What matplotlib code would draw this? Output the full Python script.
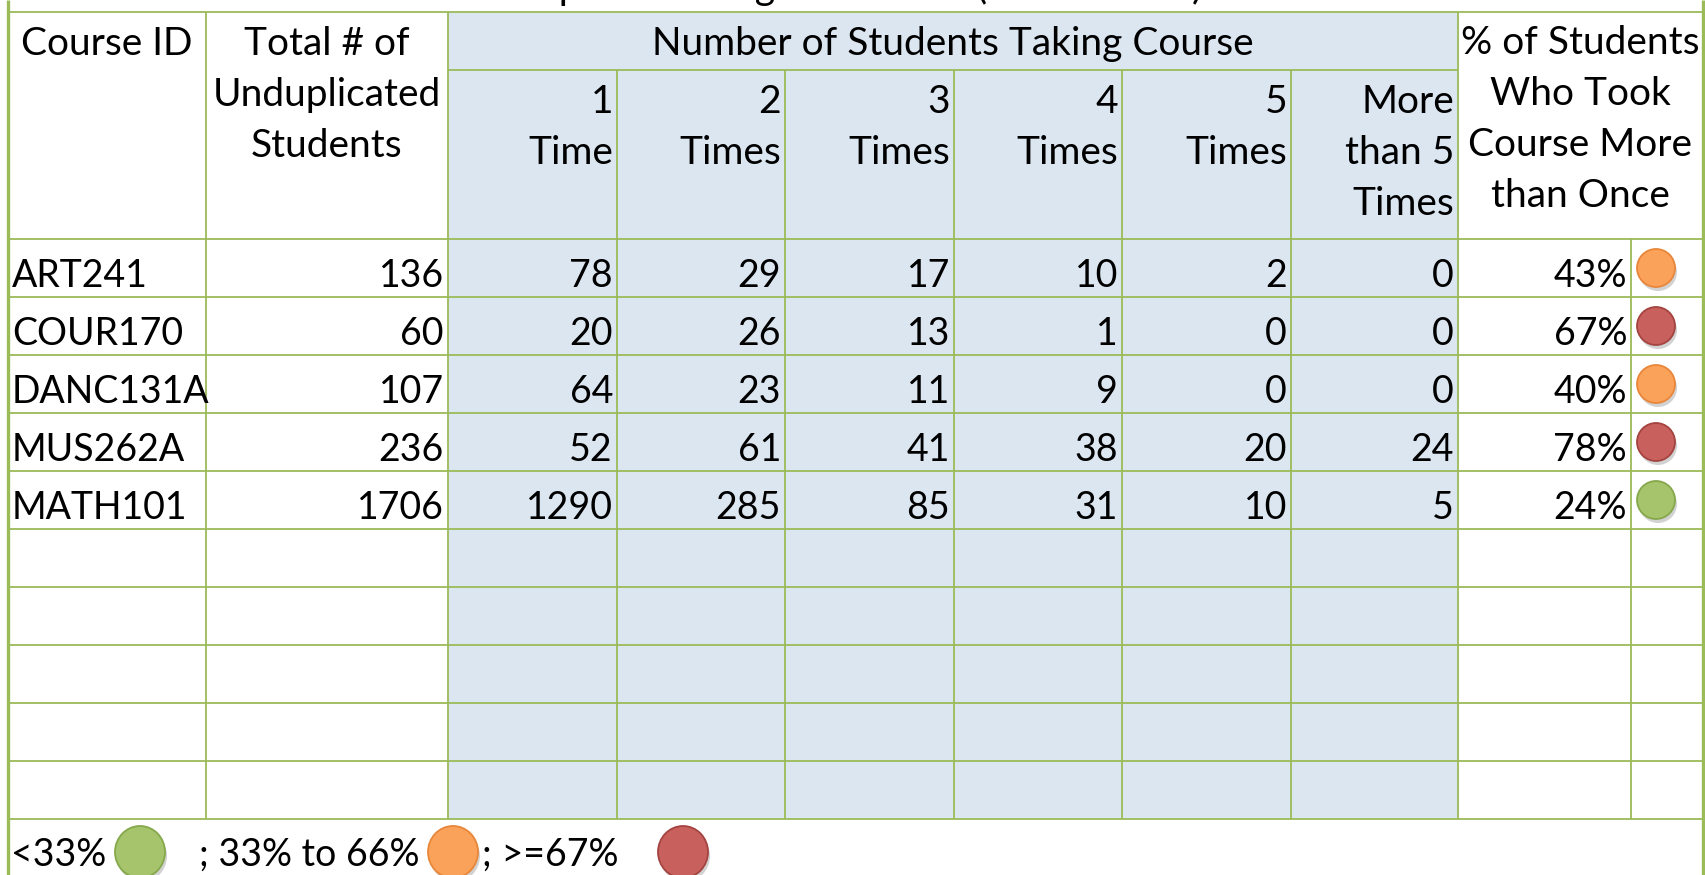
import matplotlib.pyplot as plt
from matplotlib.patches import Rectangle, Ellipse

plt.rcParams['font.family'] = ['Lato', 'DejaVu Sans']

# data
title = 'Repeats through Fall 2012 (3 semesters)'
courses = ['ART241', 'COUR170', 'DANC131A', 'MUS262A', 'MATH101']
total = [136, 60, 107, 236, 1706]
times_1 = [78, 20, 64, 52, 1290]
times_2 = [29, 26, 23, 61, 285]
times_3 = [17, 13, 11, 41, 85]
times_4 = [10, 1, 9, 38, 31]
times_5 = [2, 0, 0, 20, 10]
times_more = [0, 0, 0, 24, 5]
pct_more_than_once = [43, 67, 40, 78, 24]
times_headers = [['1', 'Time'], ['2', 'Times'], ['3', 'Times'], ['4', 'Times'],
                 ['5', 'Times'], ['More', 'than 5', 'Times']]
n_empty_rows = 5

# layout (pixels)
W, H = 1705, 875
col_x = [8, 206, 448, 617, 785, 954, 1122, 1291, 1458, 1631, 1703]
top_y, sub_y, head_y, row_h = 12, 70, 239, 58
n_rows = len(courses) + n_empty_rows
legend_y = head_y + n_rows * row_h

line_c = '#9BBB59'
blue = '#DCE6F1'
FS = 27     # body text
FS_H = 28   # header text


def level_colors(p):
    if p < 33:
        return '#A6C46C', '#86A84C'
    if p < 67:
        return '#FBA25A', '#E8863A'
    return '#C8605E', '#A44441'


def dot(ax, x, y, w, h, p):
    face, edge = level_colors(p)
    ax.add_patch(Ellipse((x + 2, y + 4), w, h, color='#7f7f7f', alpha=0.35, lw=0, zorder=3))
    ax.add_patch(Ellipse((x, y), w, h, facecolor=face, edgecolor=edge, lw=1.3, zorder=4))


fig = plt.figure(figsize=(W / 100, H / 100), dpi=100)
ax = fig.add_axes([0, 0, 1, 1])
ax.set_xlim(0, W)
ax.set_ylim(H, 0)
ax.axis('off')

# blue block for the "number of students" columns
ax.add_patch(Rectangle((col_x[2], top_y), col_x[8] - col_x[2], legend_y - top_y,
                       facecolor=blue, lw=0, zorder=0))

# grid lines
lw = 1.3
ax.hlines(top_y, col_x[0], col_x[-1], color=line_c, lw=lw)
ax.hlines(sub_y, col_x[2], col_x[8], color=line_c, lw=lw)
for k in range(n_rows + 1):
    ax.hlines(head_y + k * row_h, col_x[0], col_x[-1], color=line_c, lw=lw)
for i in range(1, len(col_x) - 1):
    y0 = top_y
    if 3 <= i <= 7:
        y0 = sub_y
    if i == 9:
        y0 = head_y
    ax.vlines(col_x[i], y0, legend_y, color=line_c, lw=lw)
ax.vlines([col_x[0], col_x[-1]], 0, H, color=line_c, lw=2.4)

# title (cut off at the top, as in the source)
ax.text(858, -1, title, ha='center', va='baseline', fontsize=FS_H)

# headers
def head_lines(x, lines, y0, ha='center'):
    for j, s in enumerate(lines):
        ax.text(x, y0 + j * 51, s, ha=ha, va='baseline', fontsize=FS_H)

head_lines((col_x[0] + col_x[1]) / 2, ['Course ID'], 55)
head_lines((col_x[1] + col_x[2]) / 2, ['Total # of', 'Unduplicated', 'Students'], 55)
head_lines((col_x[2] + col_x[8]) / 2, ['Number of Students Taking Course'], 55)
head_lines((col_x[8] + col_x[10]) / 2,
           ['% of Students', 'Who Took', 'Course More', 'than Once'], 54)
for i, lab in enumerate(times_headers):
    head_lines(col_x[3 + i] - 4, lab, 113, ha='right')

# body
cols = [total, times_1, times_2, times_3, times_4, times_5, times_more]
for r, name in enumerate(courses):
    yb = head_y + (r + 1) * row_h - 10
    ax.text(col_x[0] + 4, yb, name, ha='left', va='baseline', fontsize=FS)
    for c, vals in enumerate(cols):
        ax.text(col_x[c + 2] - 4, yb, str(vals[r]), ha='right', va='baseline', fontsize=FS)
    p = pct_more_than_once[r]
    ax.text(col_x[9] - 4, yb, f'{p}%', ha='right', va='baseline', fontsize=FS)
    dot(ax, 1656, head_y + r * row_h + row_h / 2, 38, 38, p)

# legend row
leg_base = 866
ax.text(11, leg_base, '<33%', ha='left', va='baseline', fontsize=FS)
dot(ax, 140, 852, 50, 52, 20)
ax.text(199, leg_base, '; 33% to 66%', ha='left', va='baseline', fontsize=FS)
dot(ax, 453, 852, 50, 52, 50)
ax.text(482, leg_base, '; >=67%', ha='left', va='baseline', fontsize=FS)
dot(ax, 683, 852, 50, 52, 80)

fig.savefig('out.png', dpi=100)
